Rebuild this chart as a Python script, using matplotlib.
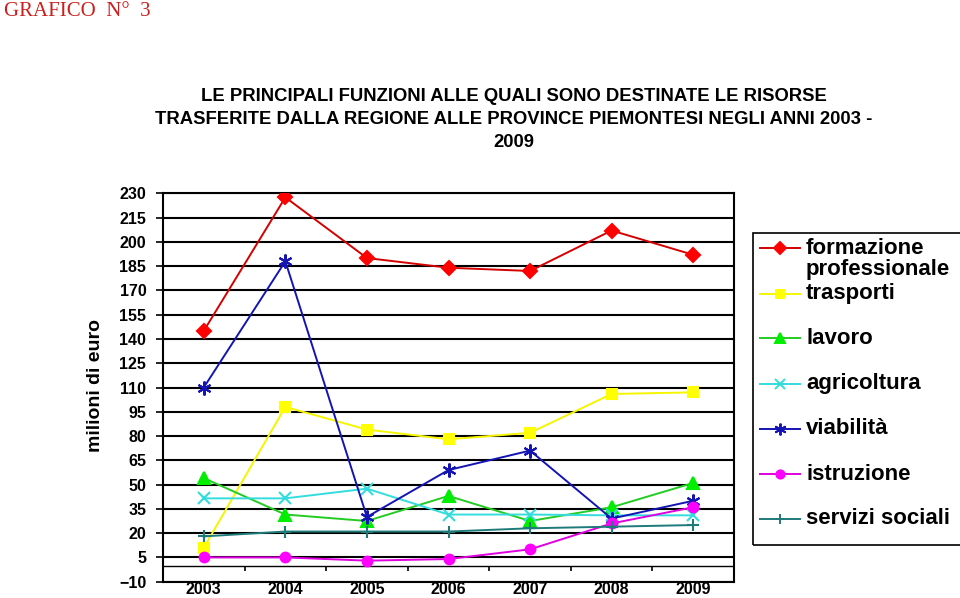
import matplotlib.pyplot as plt
import numpy as np
from matplotlib.lines import Line2D
from matplotlib.patches import Rectangle

plt.rcParams['font.family'] = ['Liberation Sans', 'DejaVu Sans']

anni = ['2003', '2004', '2005', '2006', '2007', '2008', '2009']

formazione = [145, 227.5, 190, 184, 182, 207, 192]
trasporti = [11, 98, 84, 78, 82, 106, 107]
lavoro = [54, 31.5, 27.5, 43, 27.5, 36, 51]
agricoltura = [41.5, 41.5, 47.5, 31.5, 31.5, 31, 31]
viabilita = [110, 188, 30, 59, 71, 29, 40]
istruzione = [5, 5, 3, 4, 10, 26, 36]
servizi_sociali = [18, 21, 21, 21, 23, 24, 25]

nomi = ['formazione\nprofessionale', 'trasporti', 'lavoro', 'agricoltura',
        'viabilità', 'istruzione', 'servizi sociali']
serie = [formazione, trasporti, lavoro, agricoltura, viabilita, istruzione, servizi_sociali]

# line colour, marker colour, marker, size
stili = [
    ('#d40000', '#ff0000', 'D', 7),
    ('#f5f500', '#ffff00', 's', 7),
    ('#22cc22', '#00ee00', '^', 8),
    ('#33dddd', '#33dddd', 'x', 8),
    ('#1414b4', '#1414b4', (6, 2, 0), 10),
    ('#e000e0', '#ff00ff', 'o', 7),
    ('#1f7a7a', '#1f7a7a', '+', 9),
]

W, H = 960, 598
fig = plt.figure(figsize=(W / 100, H / 100), dpi=100)
ax = fig.add_axes([163 / W, 1 - 581.7 / H, (734 - 163) / W, (581.7 - 193.3) / H])

x = np.arange(len(anni))
for vals, (lc, mc, mk, ms) in zip(serie, stili):
    ax.plot(x, vals, color=lc, lw=1.4, marker=mk, markersize=ms,
            markerfacecolor=mc, markeredgecolor=mc, markeredgewidth=1.5, zorder=3)

ax.set_xlim(-0.5, 6.5)
ax.set_ylim(-10, 230)
ax.set_yticks(np.arange(-10, 231, 15))
ax.yaxis.grid(True, color='black', lw=1.5)
ax.set_axisbelow(True)
ax.axhline(0, color='black', lw=1, zorder=2)
ax.vlines(np.arange(0.5, 6, 1), -3.2, 0, color='black', lw=1.2, zorder=2)

ax.set_xticks(x, anni)
ax.tick_params(axis='x', length=0, pad=0.5, labelsize=11.5)
ax.tick_params(axis='y', direction='out', length=5, width=1.2, pad=7, labelsize=11.5)
for lab in ax.get_xticklabels() + ax.get_yticklabels():
    lab.set_fontweight('bold')
for sp in ax.spines.values():
    sp.set_linewidth(1.5)

fig.text(95 / W, 1 - 386 / H, 'milioni di euro', rotation=90, fontsize=14,
         fontweight='bold', ha='center', va='center')

fig.text(4 / W, 1 - 2 / H, 'GRAFICO  N°  3', family='Liberation Serif',
         fontsize=15, color='#cc1f1f', ha='left', va='top')

fig.text(514 / W, 1 - 88 / H,
         'LE PRINCIPALI FUNZIONI ALLE QUALI SONO DESTINATE LE RISORSE\n'
         'TRASFERITE DALLA REGIONE ALLE PROVINCE PIEMONTESI NEGLI ANNI 2003 -\n'
         '2009', fontsize=13.3, fontweight='bold', ha='center', va='top',
         linespacing=1.45)

# legend drawn by hand so the first label's marker sits on the first line
fig.add_artist(Rectangle((753 / W, 1 - 545 / H), (965 - 753) / W, (545 - 233) / H,
                         transform=fig.transFigure, fill=False, lw=1.2,
                         edgecolor='black', clip_on=False))
voci_y = [248, 294, 338, 384, 429, 474, 519]
for nome, (lc, mc, mk, ms), yy in zip(nomi, stili, voci_y):
    yf = 1 - yy / H
    fig.add_artist(Line2D([760 / W, 800 / W], [yf, yf], transform=fig.transFigure,
                          color=lc, lw=1.4))
    fig.add_artist(Line2D([780 / W], [yf], transform=fig.transFigure, marker=mk,
                          markersize=ms * 0.85, markerfacecolor=mc,
                          markeredgecolor=mc, markeredgewidth=1.4, lw=0))
    if '\n' in nome:
        fig.text(806 / W, 1 - (yy - 10.5) / H, nome, fontsize=16, fontweight='bold',
                 ha='left', va='top', linespacing=1.0)
    else:
        fig.text(806 / W, yf, nome, fontsize=16, fontweight='bold',
                 ha='left', va='center')

fig.savefig('out.png', dpi=100)
